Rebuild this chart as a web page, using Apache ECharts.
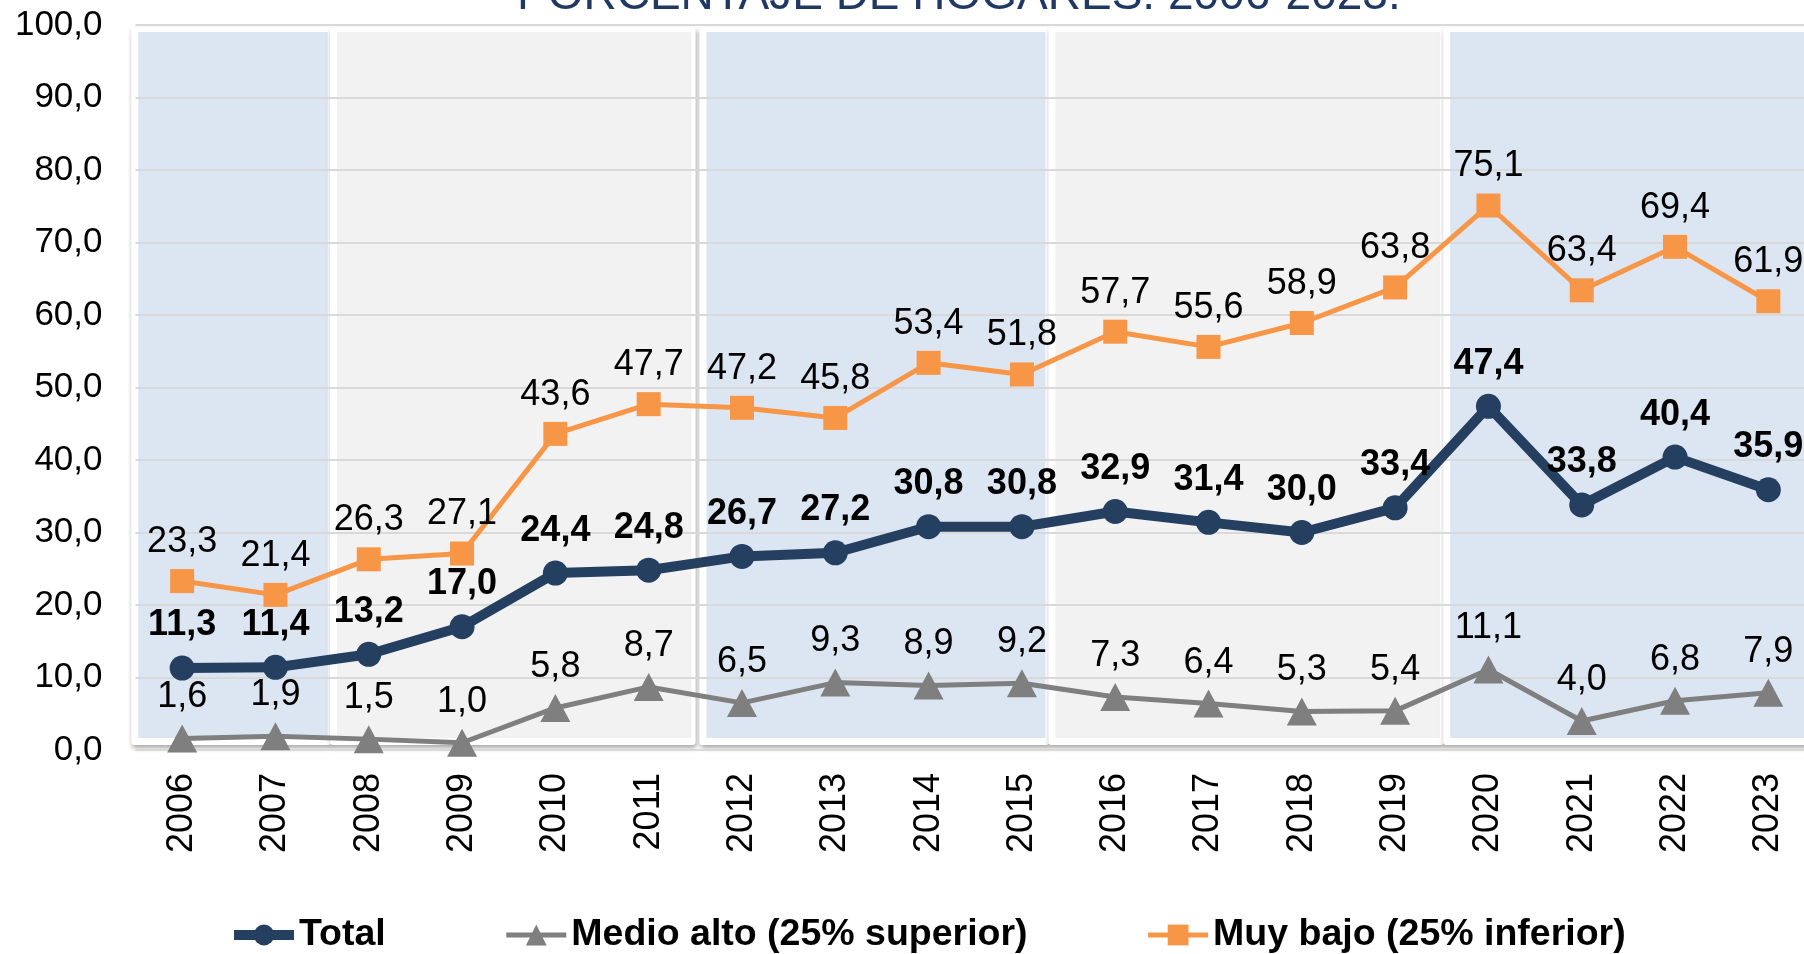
<!DOCTYPE html>
<html>
<head>
<meta charset="utf-8">
<script src="https://cdn.jsdelivr.net/npm/echarts@6/dist/echarts.min.js"></script>
<style>
  html, body { margin: 0; padding: 0; background: #fff; }
  #chart { width: 1804px; height: 954px; }
</style>
</head>
<body>
<div id="chart"></div>
<script>
const years = ['2006', '2007', '2008', '2009', '2010', '2011', '2012', '2013', '2014',
  '2015', '2016', '2017', '2018', '2019', '2020', '2021', '2022', '2023']
const total = [11.3, 11.4, 13.2, 17.0, 24.4, 24.8, 26.7, 27.2, 30.8, 30.8, 32.9, 31.4, 30.0, 33.4, 47.4, 33.8, 40.4, 35.9]
const medioAlto = [1.6, 1.9, 1.5, 1.0, 5.8, 8.7, 6.5, 9.3, 8.9, 9.2, 7.3, 6.4, 5.3, 5.4, 11.1, 4.0, 6.8, 7.9]
const muyBajo = [23.3, 21.4, 26.3, 27.1, 43.6, 47.7, 47.2, 45.8, 53.4, 51.8, 57.7, 55.6, 58.9, 63.8, 75.1, 63.4, 69.4, 61.9]
const yTicks = [0, 10, 20, 30, 40, 50, 60, 70, 80, 90, 100]

// background panels: edges in category widths from the first band's left edge
const panels = [
  [0.03, 2.06, '#DCE6F2'],
  [2.16, 5.96, '#F2F2F2'],
  [6.12, 9.75, '#DCE6F2'],
  [9.86, 13.98, '#F2F2F2'],
  [14.09, 18.6, '#DCE6F2'],
]

const FONT = "'Liberation Sans', Arial, sans-serif"
const fmt = (v) => Number(v).toFixed(1).replace('.', ',')

const myChart = echarts.init(document.getElementById('chart'))

const option = {
  animation: false,
  textStyle: { fontFamily: FONT },
  title: {
    text: 'PORCENTAJE DE HOGARES. 2006-2023.',
    left: 512,
    top: -32,
    textStyle: { fontSize: 46, fontWeight: 'normal', color: '#1F3864', fontFamily: FONT },
  },
  grid: {
    left: 135.5,
    right: -11,
    top: 25,
    bottom: 204,
    outerBoundsMode: 'none',
  },
  legend: {
    left: 224,
    top: 911,
    itemWidth: 60,
    itemHeight: 26,
    itemGap: 118,
    data: ['Total', 'Medio alto (25% superior)', 'Muy bajo (25% inferior)'],
    textStyle: { fontSize: 37.5, fontWeight: 'bold', color: '#000', fontFamily: FONT },
    lineStyle: { width: 'inherit' },
  },
  xAxis: {
    type: 'category',
    data: years,
    boundaryGap: true,
    axisLine: { show: false },
    axisTick: { show: false },
    axisLabel: {
      rotate: 90,
      interval: 0,
      margin: 23,
      fontSize: 36,
      color: '#000',
      fontFamily: FONT,
    },
  },
  yAxis: {
    type: 'value',
    min: yTicks[0],
    max: yTicks[yTicks.length - 1],
    interval: 10,
    axisLine: { show: false },
    axisTick: { show: false },
    axisLabel: {
      margin: 33,
      fontSize: 35,
      color: '#000',
      fontFamily: FONT,
      formatter: function (value) {
        return fmt(value)
      },
    },
    splitLine: { lineStyle: { color: '#D9D9D9', width: 2 } },
  },
  series: [
    {
      name: 'panels',
      type: 'custom',
      z: -1,
      silent: true,
      data: panels.map((p, i) => [i, 0]),
      renderItem: function (params, api) {
        const p = panels[params.dataIndex]
        const bw = api.size([1, 0])[0]
        const topLeft = api.coord([0, 100])
        const bottom = api.coord([0, 0])[1]
        const x0 = topLeft[0] - bw / 2
        const x1 = x0 + p[0] * bw
        const x2 = x0 + p[1] * bw
        const y1 = topLeft[1] + 7
        const y2 = bottom - 12
        return {
          type: 'group',
          children: [
            {
              type: 'rect',
              shape: { x: x1 - 7, y: y1 - 5, width: x2 - x1 + 11, height: y2 - y1 + 12, r: 3 },
              style: {
                fill: '#fff',
                shadowBlur: 5,
                shadowOffsetX: 1,
                shadowOffsetY: 3,
                shadowColor: 'rgba(0,0,0,0.35)',
              },
            },
            {
              type: 'rect',
              shape: { x: x1, y: y1, width: x2 - x1, height: y2 - y1 },
              style: { fill: p[2] },
            },
          ],
        }
      },
    },
    {
      name: 'Total',
      type: 'line',
      data: total,
      symbol: 'circle',
      symbolSize: 25,
      itemStyle: { color: '#243F60' },
      lineStyle: { color: '#243F60', width: 10 },
      label: {
        show: true,
        position: 'top',
        distance: 12,
        fontSize: 36,
        fontWeight: 'bold',
        color: '#000',
        fontFamily: FONT,
        formatter: (p) => fmt(p.value),
      },
    },
    {
      name: 'Medio alto (25% superior)',
      type: 'line',
      data: medioAlto,
      symbol: 'triangle',
      symbolSize: [30, 28],
      itemStyle: { color: '#7F7F7F' },
      lineStyle: { color: '#7F7F7F', width: 5 },
      label: {
        show: true,
        position: 'top',
        distance: 9,
        fontSize: 36,
        color: '#000',
        fontFamily: FONT,
        formatter: (p) => fmt(p.value),
      },
    },
    {
      name: 'Muy bajo (25% inferior)',
      type: 'line',
      data: muyBajo,
      symbol: 'rect',
      symbolSize: 24,
      itemStyle: { color: '#F79646' },
      lineStyle: { color: '#F79646', width: 5 },
      label: {
        show: true,
        position: 'top',
        distance: 9,
        fontSize: 36,
        color: '#000',
        fontFamily: FONT,
        formatter: (p) => fmt(p.value),
      },
    },
  ],
}

myChart.setOption(option)
</script>
</body>
</html>
